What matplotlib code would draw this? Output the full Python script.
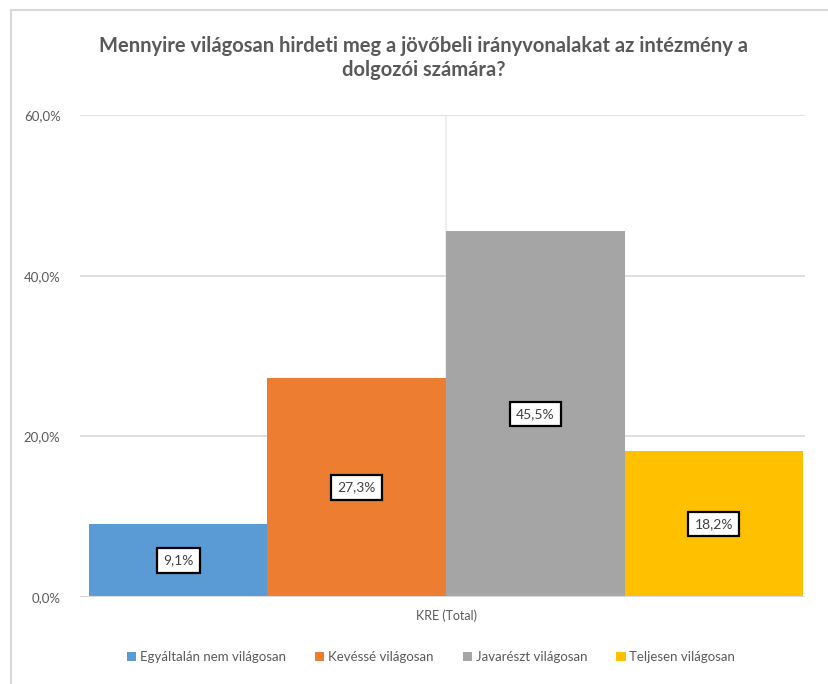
import matplotlib.pyplot as plt
from matplotlib.lines import Line2D
from matplotlib.patches import Patch

categories = ["Egyáltalán nem világosan", "Kevéssé világosan",
              "Javarészt világosan", "Teljesen világosan"]
values = [9.1, 27.3, 45.5, 18.2]
colors = ["#5b9bd5", "#ed7d31", "#a5a5a5", "#ffc000"]
yticks = [0, 20, 40, 60]
group_label = "KRE (Total)"
title = "Mennyire világosan hirdeti meg a jövőbeli irányvonalakat az intézmény a\ndolgozói számára?"

plt.rcParams['font.family'] = ['Lato', 'DejaVu Sans']
txt = "#595959"
W, H = 829, 684

fig = plt.figure(figsize=(W / 100, H / 100), dpi=100)
ax = fig.add_axes([80 / W, 1 - 597 / H, 725 / W, 482 / H])

pos = [i - 1.5 for i in range(len(values))]
ax.bar(pos, values, width=1.0, color=colors, zorder=3)
ax.set_xlim(-2.05, 2.01)
ax.set_ylim(0, 60)
ax.set_yticks(yticks)
ax.set_yticklabels([f"{t:.1f}%".replace(".", ",") for t in yticks],
                   fontsize=9.5, color=txt)
ax.tick_params(axis='y', length=0, pad=14)
ax.set_xticks([0])
ax.set_xticklabels([group_label], fontsize=9, color=txt)
ax.tick_params(axis='x', length=0, pad=9)
ax.grid(axis='y', color="#d9d9d9", lw=1.2, zorder=0)
ax.axvline(0, color="#eeeeee", lw=1.5, zorder=0)
for s in ax.spines.values():
    s.set_visible(False)
ax.axhline(0, color="#d9d9d9", lw=1.5, zorder=4)

for x, v in zip(pos, values):
    ax.text(x, v / 2, f"{v:.1f}%".replace(".", ","), ha='center', va='center',
            fontsize=10, color="#404040", zorder=5,
            bbox=dict(boxstyle='square,pad=0.45', fc='white', ec='black', lw=1.6))

fig.text(424 / W, 1 - 58 / H, title, ha='center', va='center', fontsize=14.5,
         fontweight='bold', color=txt, linespacing=1.3)

handles = [Patch(facecolor=c, edgecolor='none') for c in colors]
fig.legend(handles, categories, loc='center', bbox_to_anchor=(431 / W, 1 - 657 / H),
           ncol=4, frameon=False, fontsize=9.5, labelcolor=txt,
           handlelength=0.7, handleheight=0.7, handletextpad=0.3, columnspacing=2.2)

# chart area border (left and top edges visible)
fig.add_artist(Line2D([11 / W, 11 / W], [0, 1 - 9.5 / H], color="#d9d9d9", lw=1.5))
fig.add_artist(Line2D([11 / W, 1], [1 - 9.5 / H, 1 - 9.5 / H], color="#d9d9d9", lw=1.5))

fig.savefig("out.png", dpi=100)
